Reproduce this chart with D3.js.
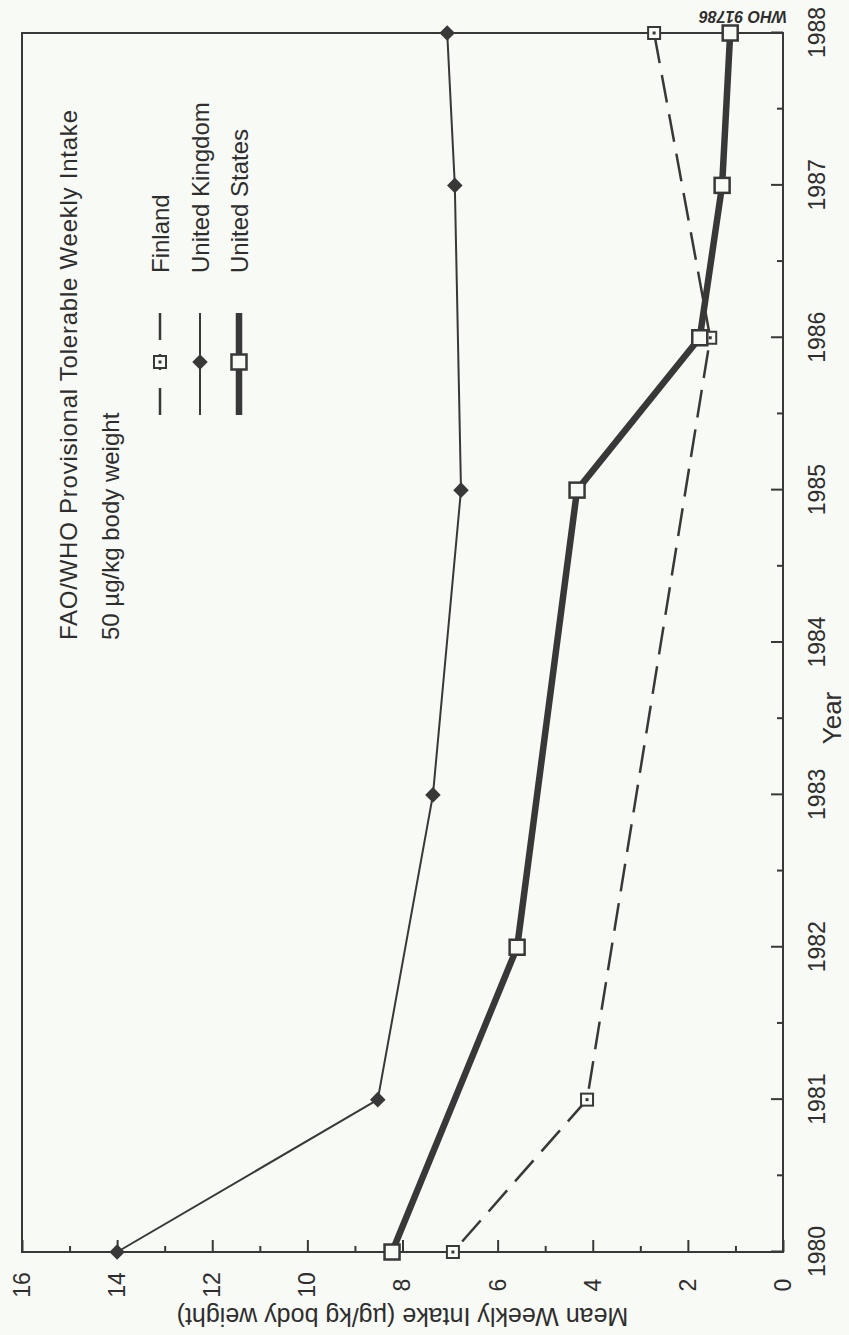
<!DOCTYPE html>
<html>
<head>
<meta charset="utf-8">
<script src="https://cdn.jsdelivr.net/npm/d3@7"></script>
<style>
  html, body { margin: 0; padding: 0; background: #f8faf5; }
  svg { display: block; }
  text { font-family: "Liberation Sans", Arial, Helvetica, sans-serif; fill: #2e2e2e; }
</style>
</head>
<body>
<svg id="chart" width="849" height="1335"></svg>
<script>
// Mean weekly intake of lead, by year
const finlandYears  = [1980, 1981, 1986, 1988];
const finlandValues = [6.94, 4.12, 1.53, 2.71];
const ukYears  = [1980, 1981, 1983, 1985, 1987, 1988];
const ukValues = [14.0, 8.52, 7.36, 6.77, 6.90, 7.06];
const usYears  = [1980, 1982, 1985, 1986, 1987, 1988];
const usValues = [8.22, 5.59, 4.33, 1.75, 1.28, 1.11];

const yearTicks = [1980, 1981, 1982, 1983, 1984, 1985, 1986, 1987, 1988];
const yearMinorTicks = [1980.5, 1981.5, 1982.5, 1983.5, 1984.5, 1985.5, 1986.5, 1987.5];
const valueTicks = [0, 2, 4, 6, 8, 10, 12, 14, 16];
const valueMinorTicks = [1, 3, 5, 7, 9, 11, 13, 15];

const seriesNames = ["Finland", "United Kingdom", "United States"];
const noteLines = ["FAO/WHO Provisional Tolerable Weekly Intake", "50 \u00b5g/kg body weight"];
const xTitle = "Year";
const yTitle = "Mean Weekly Intake (\u00b5g/kg body weight)";
const figureCode = "WHO 91786";

const W = 849, H = 1335;
const ink = "#383838";
const paper = "#f8faf5";

const svg = d3.select("#chart");
svg.append("rect").attr("width", W).attr("height", H).attr("fill", paper);

// The chart is laid out in landscape and turned a quarter turn onto the page.
const g = svg.append("g").attr("transform", `translate(0,${H}) rotate(-90)`);

const x = d3.scaleLinear().domain([1980, 1988]).range([83, 1302]);
const y = d3.scaleLinear().domain([0, 16]).range([783, 22]);

// value axis (major + minor ticks, pointing inward)
const yAxis = g.append("g").attr("transform", `translate(${x.range()[0]},0)`)
  .call(d3.axisLeft(y).tickValues(valueTicks).tickSize(-12).tickSizeOuter(0).tickPadding(0).tickFormat(d3.format("d")));
yAxis.selectAll("text").attr("text-anchor", "middle").attr("x", -33)
  .style("font-size", "23px").style("font-family", '"Liberation Sans", Arial, sans-serif').attr("fill", "#2e2e2e");
g.append("g").attr("transform", `translate(${x.range()[0]},0)`)
  .call(d3.axisLeft(y).tickValues(valueMinorTicks).tickSize(-6).tickSizeOuter(0).tickFormat(""));

// year axis
const xAxis = g.append("g").attr("transform", `translate(0,${y.range()[0]})`)
  .call(d3.axisBottom(x).tickValues(yearTicks).tickSize(-12).tickSizeOuter(0).tickPadding(26).tickFormat(d3.format("d")));
xAxis.selectAll("text")
  .style("font-size", "23px").style("font-family", '"Liberation Sans", Arial, sans-serif').attr("fill", "#2e2e2e");
g.append("g").attr("transform", `translate(0,${y.range()[0]})`)
  .call(d3.axisBottom(x).tickValues(yearMinorTicks).tickSize(-6).tickSizeOuter(0).tickFormat(""));

g.selectAll(".domain").remove();
g.selectAll(".tick line").attr("stroke", ink).attr("stroke-width", 2);

// plot frame
g.append("rect")
  .attr("x", x.range()[0]).attr("y", y.range()[1])
  .attr("width", x.range()[1] - x.range()[0]).attr("height", y.range()[0] - y.range()[1])
  .attr("fill", "none").attr("stroke", ink).attr("stroke-width", 2);

// axis titles
g.append("text").attr("x", 617).attr("y", 841).attr("text-anchor", "middle")
  .style("font-size", "26px").text(xTitle);
g.append("text").attr("transform", `translate(${(x.range()[0] - 56)},${(y(0) + y(16)) / 2}) rotate(-90)`)
  .attr("text-anchor", "middle").style("font-size", "25px").text(yTitle);

// series
const line = d3.line().x(d => x(d[0])).y(d => y(d[1]));
const fin = d3.zip(finlandYears, finlandValues);
const uk = d3.zip(ukYears, ukValues);
const us = d3.zip(usYears, usValues);

g.append("path").datum(fin).attr("d", line).attr("fill", "none")
  .attr("stroke", ink).attr("stroke-width", 2.5).attr("stroke-dasharray", "28,12").attr("stroke-dashoffset", -14);
g.append("path").datum(uk).attr("d", line).attr("fill", "none")
  .attr("stroke", ink).attr("stroke-width", 2).attr("stroke-linejoin", "round");
g.append("path").datum(us).attr("d", line).attr("fill", "none")
  .attr("stroke", ink).attr("stroke-width", 6.5).attr("stroke-linejoin", "round");

// markers
function finMarker(sel) {
  sel.append("rect").attr("x", -6).attr("y", -6).attr("width", 12).attr("height", 12)
    .attr("fill", paper).attr("stroke", ink).attr("stroke-width", 2);
  sel.append("rect").attr("x", -1.5).attr("y", -1.5).attr("width", 3).attr("height", 3).attr("fill", ink);
}
function ukMarker(sel) {
  sel.append("rect").attr("x", -5.5).attr("y", -5.5).attr("width", 11).attr("height", 11)
    .attr("transform", "rotate(45)").attr("fill", ink);
}
function usMarker(sel) {
  sel.append("rect").attr("x", -7.5).attr("y", -7.5).attr("width", 15).attr("height", 15)
    .attr("fill", paper).attr("stroke", ink).attr("stroke-width", 2.5);
}

g.selectAll(".m-fin").data(fin).join("g").attr("class", "m-fin")
  .attr("transform", d => `translate(${x(d[0])},${y(d[1])})`).call(finMarker);
g.selectAll(".m-uk").data(uk).join("g").attr("class", "m-uk")
  .attr("transform", d => `translate(${x(d[0])},${y(d[1])})`).call(ukMarker);
g.selectAll(".m-us").data(us).join("g").attr("class", "m-us")
  .attr("transform", d => `translate(${x(d[0])},${y(d[1])})`).call(usMarker);

// note on the tolerable intake
const note = g.append("text").style("font-size", "24px");
note.append("tspan").attr("x", 695).attr("y", 77)
  .attr("textLength", 530).attr("lengthAdjust", "spacing").text(noteLines[0]);
note.append("tspan").attr("x", 695).attr("y", 119).text(noteLines[1]);

// legend
const legendRows = [160, 200, 239];
const lg = g.append("g");
const lx0 = 920, lx1 = 1022, lm = 973, ltext = 1062;
// Finland: dash, marker, dash
lg.append("line").attr("x1", lx0).attr("x2", lx0 + 27).attr("y1", legendRows[0]).attr("y2", legendRows[0])
  .attr("stroke", ink).attr("stroke-width", 2.5);
lg.append("line").attr("x1", lm - 8).attr("x2", lm + 8).attr("y1", legendRows[0]).attr("y2", legendRows[0])
  .attr("stroke", ink).attr("stroke-width", 2.5);
lg.append("line").attr("x1", lx1 - 27).attr("x2", lx1).attr("y1", legendRows[0]).attr("y2", legendRows[0])
  .attr("stroke", ink).attr("stroke-width", 2.5);
lg.append("g").attr("transform", `translate(${lm},${legendRows[0]})`).call(finMarker);
lg.append("line").attr("x1", lx0).attr("x2", lx1).attr("y1", legendRows[1]).attr("y2", legendRows[1])
  .attr("stroke", ink).attr("stroke-width", 2);
lg.append("g").attr("transform", `translate(${lm},${legendRows[1]})`).call(ukMarker);
lg.append("line").attr("x1", lx0).attr("x2", lx1).attr("y1", legendRows[2]).attr("y2", legendRows[2])
  .attr("stroke", ink).attr("stroke-width", 6.5);
lg.append("g").attr("transform", `translate(${lm},${legendRows[2]})`).call(usMarker);
lg.selectAll(".ltext").data(seriesNames).join("text").attr("class", "ltext")
  .attr("x", ltext).attr("y", (d, i) => legendRows[i] + 8.5)
  .style("font-size", "24px").text(d => d);

// figure reference code, printed upside down in the corner
svg.append("text").attr("transform", "translate(743,11) rotate(180)")
  .attr("text-anchor", "middle").style("font-size", "16px").style("font-weight", "bold")
  .style("font-style", "italic").text(figureCode);
</script>
</body>
</html>
